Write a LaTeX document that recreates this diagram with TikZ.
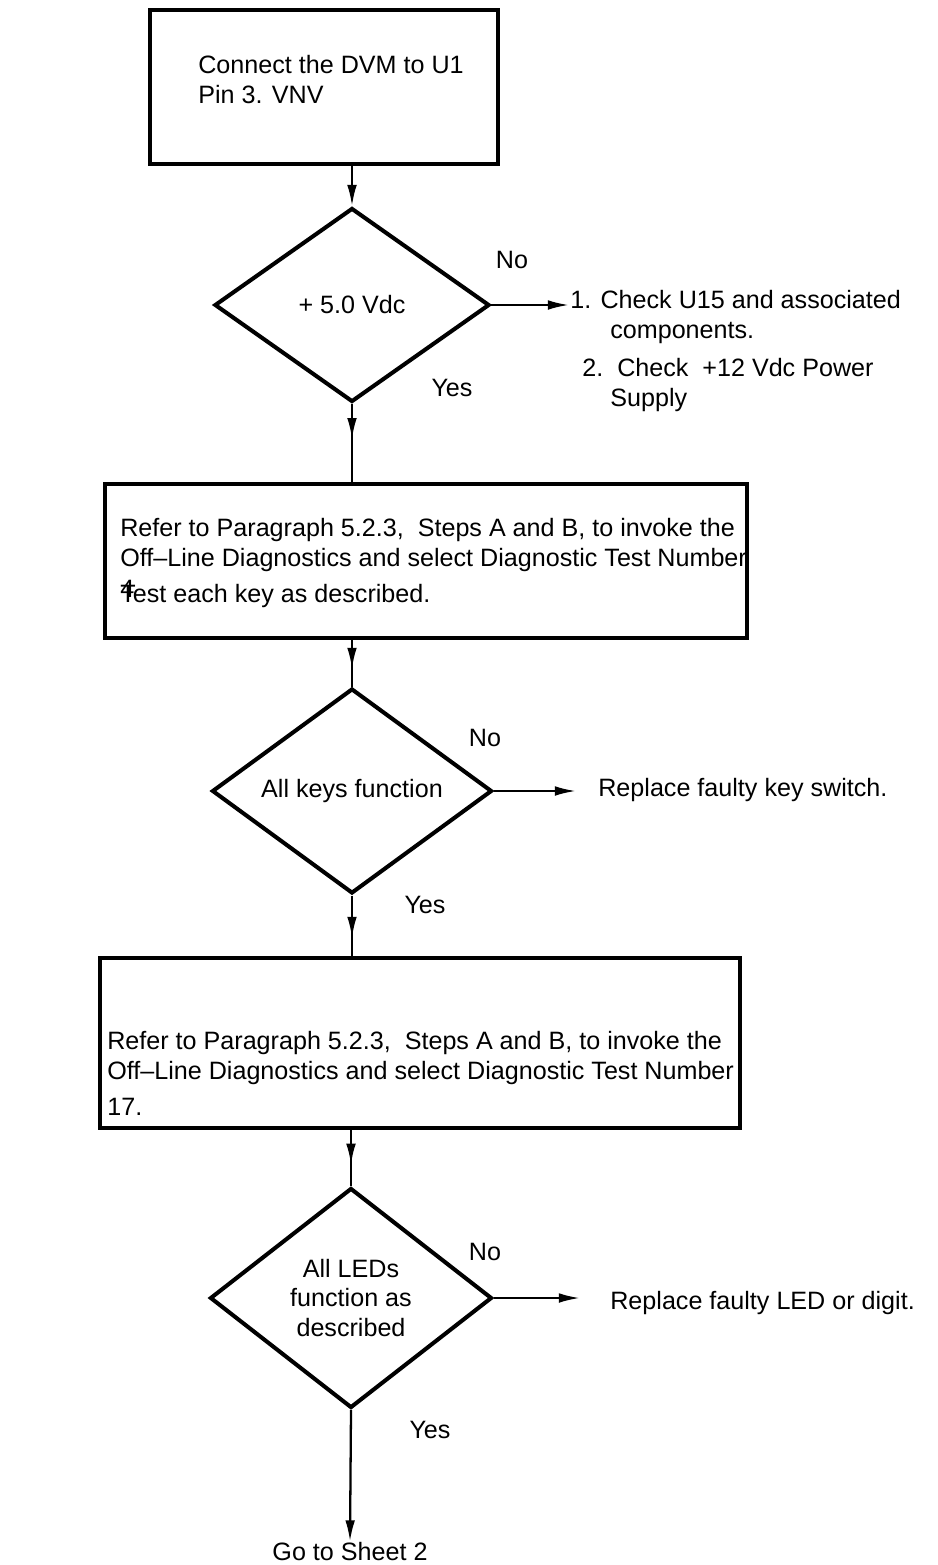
\documentclass[tikz,border=0pt]{standalone}
\usepackage{fontspec}
\setmainfont{Liberation Sans}
\usetikzlibrary{shapes.geometric,arrows.meta,decorations.markings}
\tikzset{
  every node/.style={font=\fontsize{14.3}{17}\selectfont,inner sep=0pt},
  stepbox/.style={draw,line width=2.3pt,rectangle},
  decision/.style={draw,line width=2.3pt,diamond,align=center},
  boxtext/.style={anchor=north west,align=left},
  flow/.style={line width=1.3pt},
  tip/.style={-{Latex[length=12pt,width=5.5pt]}},
  midtip/.style={decoration={markings,mark=at position #1 with {\arrow{Latex[length=12pt,width=5.5pt]}}},postaction={decorate}},
}
\begin{document}
\begin{tikzpicture}[x=0.02cm,y=-0.02cm]
\useasboundingbox (0,0) rectangle (937,1565);
% boxes and decisions
\node[stepbox,minimum width=6.96cm,minimum height=3.08cm] (b1) at (324,87) {};
\node[decision,minimum width=5.5cm,minimum height=3.88cm] (d1) at (352,305) {+ 5.0 Vdc};
\node[stepbox,minimum width=12.84cm,minimum height=3.08cm] (b2) at (426,561) {};
\node[decision,minimum width=5.6cm,minimum height=3.88cm] (d2) at (352,791) {All keys function};
\node[stepbox,minimum width=12.8cm,minimum height=3.4cm] (b3) at (420,1043) {};
\node[decision,minimum width=5.64cm,minimum height=4.4cm] (d3) at (351,1298) {All LEDs\\function as\\described};
\node (goto) at (350,1551) {Go to Sheet 2};
% texts in the boxes
\node[boxtext] (t1) at (198,55) {Connect the DVM to U1\\Pin 3. VNV};
\node[boxtext] (t2) at (120,518) {Refer to Paragraph 5.2.3,\ \ Steps A and B, to invoke the\\Off--Line Diagnostics and select Diagnostic Test Number\\[0.12cm]\rlap{\raisebox{3pt}{4}}Test each key as described.};
\node[boxtext] (t3) at (107,1031) {Refer to Paragraph 5.2.3,\ \ Steps A and B, to invoke the\\Off--Line Diagnostics and select Diagnostic Test Number\\[0.12cm]17.};
% No branches
\node[boxtext] (fix1) at (570,290) {1. Check U15 and associated\\\hspace*{0.8cm}components.\\[0.16cm]\hspace*{0.24cm}2.\ \ Check\ \ +12 Vdc Power\\\hspace*{0.8cm}Supply};
\node[anchor=west] (fix2) at (598,790) {Replace faulty key switch.};
\node[anchor=west] (fix3) at (610,1303) {Replace faulty LED or digit.};
\coordinate (e1) at (569,305);
\coordinate (e2) at (576,791);
\coordinate (e3) at (580,1298);
% labels
\node (no1) at (512,260) {No};
\node (yes1) at (452,388) {Yes};
\node (no2) at (485,738) {No};
\node (yes2) at (425,905) {Yes};
\node (no3) at (485,1252) {No};
\node (yes3) at (430,1430) {Yes};
% connectors
\draw[flow,tip] (b1.south -| d1.north) -- (d1.north);
\draw[flow,midtip=0.45] (d1.south) -- (d1.south |- b2.north);
\draw[flow,midtip=0.62] (b2.south -| d2.north) -- (d2.north);
\draw[flow,midtip=0.7] (d2.south) -- (d2.south |- b3.north);
\draw[flow,midtip=0.62] (b3.south -| d3.north) -- (d3.north);
\draw[flow,tip] (d3.south) -- (goto.north);
\draw[flow,tip] (d1.east) -- (e1);
\draw[flow,tip] (d2.east) -- (e2);
\draw[flow,tip] (d3.east) -- (e3);
\end{tikzpicture}
\end{document}
